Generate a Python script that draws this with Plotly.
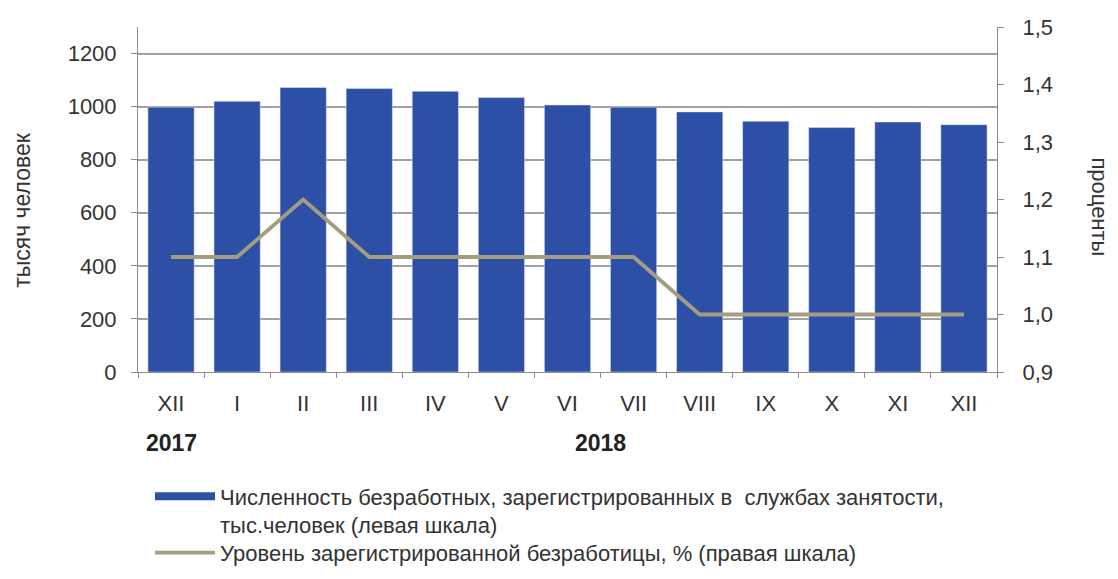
import plotly.graph_objects as go

# Data
keys = ["XII-2017", "I", "II", "III", "IV", "V", "VI", "VII", "VIII", "IX", "X", "XI", "XII"]
month_labels = ["XII", "I", "II", "III", "IV", "V", "VI", "VII", "VIII", "IX", "X", "XI", "XII"]
unemployed = [998, 1020, 1072, 1068, 1058, 1034, 1006, 998, 980, 945, 921, 942, 932]
rate = [1.1, 1.1, 1.2, 1.1, 1.1, 1.1, 1.1, 1.1, 1.0, 1.0, 1.0, 1.0, 1.0]
left_ticks = [0, 200, 400, 600, 800, 1000, 1200]
right_ticks = [0.9, 1.0, 1.1, 1.2, 1.3, 1.4, 1.5]

bar_name = "Численность безработных, зарегистрированных в  службах занятости,<br>тыс.человек (левая шкала)"
line_name = "Уровень зарегистрированной безработицы, % (правая шкала)"

BAR = "#2e4fa6"
LINE = "#a39d82"
FONT = "Liberation Sans, Arial, sans-serif"
TXT = "#333333"
AX = "#8c8c8c"
GRID = "#a0a0a0"

fig = go.Figure()
fig.add_trace(go.Bar(x=keys, y=unemployed, marker_color=BAR, showlegend=False,
                     name=bar_name, yaxis="y"))
# legend-only stand-in so the legend key is a wide flat bar like the original
fig.add_trace(go.Scatter(x=[None], y=[None], mode="lines", line=dict(color=BAR, width=8),
                         name=bar_name, yaxis="y", legend="legend"))
fig.add_trace(go.Scatter(x=keys, y=rate, mode="lines", line=dict(color=LINE, width=3.8),
                         name=line_name, yaxis="y2", legend="legend2"))

legend_common = dict(orientation="v", xanchor="left", yanchor="top",
                     font=dict(size=22, color=TXT), itemwidth=60, valign="top",
                     bgcolor="rgba(0,0,0,0)")

fig.update_layout(
    width=1110, height=571,
    margin=dict(l=130, r=121, t=19, b=207, autoexpand=False),
    paper_bgcolor="white", plot_bgcolor="white",
    font=dict(family=FONT, size=23, color=TXT),
    separators=", ",
    bargap=0.3,
    xaxis=dict(type="category", tickmode="array", tickvals=keys, ticktext=month_labels,
               tickson="boundaries", ticks="outside", ticklen=5, tickcolor=AX,
               showline=True, linecolor=AX, linewidth=1, showgrid=False,
               automargin=False, ticklabelstandoff=12,
               tickfont=dict(size=22, color=TXT)),
    yaxis=dict(range=[0, 1300], tickmode="array", tickvals=left_ticks,
               showgrid=True, gridcolor=GRID, gridwidth=1.5, zeroline=False,
               showline=True, linecolor=AX, ticks="outside", ticklen=6,
               tickcolor=AX, automargin=False, ticklabelstandoff=10,
               tickfont=dict(size=22, color=TXT), layer="below traces"),
    yaxis2=dict(range=[0.9, 1.5], overlaying="y", side="right", tickmode="array",
                tickvals=right_ticks, tickformat=".1f", showgrid=False, zeroline=False,
                showline=True, linecolor=AX, ticks="outside", ticklen=6,
                tickcolor=AX, automargin=False, ticklabelstandoff=14,
                tickfont=dict(size=22, color=TXT)),
    legend=dict(x=0.014, y=-0.30, **legend_common),
    legend2=dict(x=0.014, y=-0.463, **legend_common),
    annotations=[
        dict(text="<b>2017</b>", x=0, y=-0.205, xref="x", yref="paper", showarrow=False,
             font=dict(size=23, color="#222222"), xanchor="center", yanchor="middle"),
        dict(text="<b>2018</b>", x=6.5, y=-0.205, xref="x", yref="paper", showarrow=False,
             font=dict(size=23, color="#222222"), xanchor="center", yanchor="middle"),
        dict(text="тысяч человек", x=0, xshift=-116, y=0.47, xref="paper", yref="paper",
             showarrow=False, textangle=-90, font=dict(size=23, color=TXT),
             xanchor="center", yanchor="middle"),
        dict(text="проценты", x=1.0, xshift=103, y=0.48, xref="paper", yref="paper",
             showarrow=False, textangle=90, font=dict(size=22, color=TXT),
             xanchor="center", yanchor="middle"),
    ],
)

fig.write_html("out.html")
